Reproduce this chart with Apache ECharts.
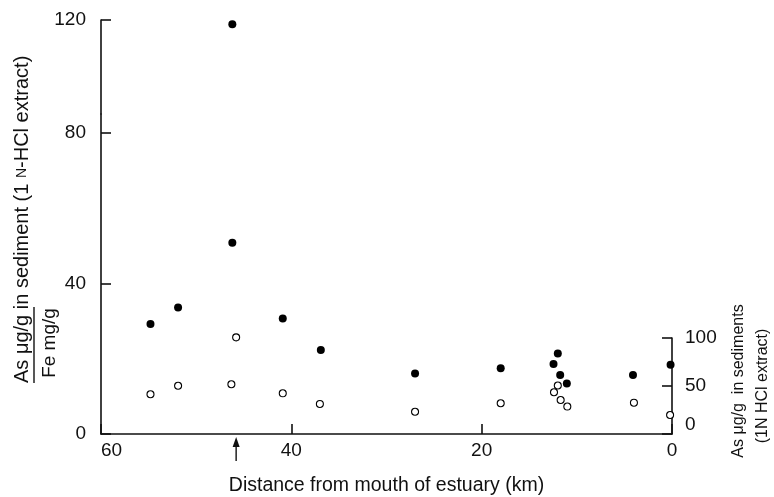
<!DOCTYPE html>
<html>
<head>
<meta charset="utf-8">
<script src="https://cdn.jsdelivr.net/npm/echarts@6/dist/echarts.min.js"></script>
<style>
  html, body { margin: 0; padding: 0; background: #fff; }
  #chart { width: 774px; height: 497px; }
</style>
</head>
<body>
<div id="chart"></div>
<script>
// As/Fe ratio (filled dots, left axis)
const ratioKm = [54.8, 51.9, 46.2, 46.2, 40.9, 36.9, 27.0, 18.0, 12.45, 12.0, 11.75, 11.05, 4.1, 0.15]
const ratioVal = [29.2, 33.6, 118.9, 50.8, 30.7, 22.3, 16.1, 17.5, 18.6, 21.4, 15.7, 13.4, 15.7, 18.4]

// As in sediments (open dots, right axis)
const sedKm = [54.8, 51.9, 46.3, 45.8, 40.9, 37.0, 27.0, 18.0, 12.4, 12.0, 11.7, 11.0, 4.0, 0.2]
const sedVal = [41.4, 50.3, 51.8, 100.7, 42.4, 31.3, 23.2, 32.0, 43.5, 50.5, 35.4, 28.6, 32.6, 19.8]

const leftTicks = [0, 40, 80, 120]
const rightTicks = [0, 50, 100]
const arrowKm = 45.8

const FONT = 'Liberation Sans, Arial, sans-serif'
const INK = '#111'

const chart = echarts.init(document.getElementById('chart'))

const axisLine = { show: true, onZero: false, lineStyle: { color: INK, width: 1.6 } }

chart.setOption({
  backgroundColor: '#fff',
  animation: false,
  grid: [
    { left: 101, right: 102, top: 20, bottom: 63, outerBoundsMode: 'none' },
    { left: 101, right: 102, top: 338, bottom: 63, outerBoundsMode: 'none' }
  ],
  xAxis: [
    {
      type: 'value',
      gridIndex: 0,
      min: 0,
      max: 60,
      interval: 20,
      inverse: true,
      axisLine,
      axisTick: { inside: true, length: 10, lineStyle: { color: INK, width: 1.6 } },
      axisLabel: { color: INK, fontSize: 19, fontFamily: FONT, margin: 7, alignMaxLabel: 'left' },
      splitLine: { show: false },
      name: 'Distance from mouth of estuary (km)',
      nameLocation: 'middle',
      nameGap: 42,
      nameTextStyle: { color: INK, fontSize: 19.5, fontFamily: FONT }
    },
    {
      type: 'value',
      gridIndex: 1,
      min: 0,
      max: 60,
      inverse: true,
      show: false
    }
  ],
  yAxis: [
    {
      type: 'value',
      gridIndex: 0,
      position: 'left',
      min: 0,
      max: 120,
      // the original scale is squeezed between 80 and 120
      breaks: [{ start: 85, end: 95, gap: 0 }],
      breakArea: { show: false },
      axisLine,
      axisTick: { inside: true, length: 10, customValues: leftTicks, lineStyle: { color: INK, width: 1.6 } },
      axisLabel: { color: INK, fontSize: 19, fontFamily: FONT, margin: 15, customValues: leftTicks },
      splitLine: { show: false }
    },
    {
      type: 'value',
      gridIndex: 1,
      position: 'right',
      min: 0,
      max: 100,
      axisLine,
      axisTick: { inside: true, length: 10, customValues: rightTicks, lineStyle: { color: INK, width: 1.6 } },
      axisLabel: {
        color: INK, fontSize: 19, fontFamily: FONT, margin: 13,
        customValues: rightTicks, verticalAlignMinLabel: 'bottom'
      },
      splitLine: { show: false }
    }
  ],
  series: [
    {
      name: 'As/Fe',
      type: 'scatter',
      xAxisIndex: 0,
      yAxisIndex: 0,
      clip: false,
      symbol: 'circle',
      symbolSize: 8,
      itemStyle: { color: '#000', opacity: 1 },
      data: ratioKm.map((k, i) => [k, ratioVal[i]])
    },
    {
      name: 'As',
      type: 'scatter',
      xAxisIndex: 1,
      yAxisIndex: 1,
      clip: false,
      symbol: 'circle',
      symbolSize: 7,
      itemStyle: { color: '#fff', borderColor: '#000', borderWidth: 1.1, opacity: 1 },
      data: sedKm.map((k, i) => [k, sedVal[i]])
    }
  ]
})

// titles and the arrow under the axis
const ax = chart.convertToPixel({ xAxisIndex: 0 }, arrowKm)
chart.setOption({
  graphic: [
    {
      type: 'text', x: 22, y: 383, rotation: Math.PI / 2,
      style: {
        text: 'As μg/g in sediment (1 {s|N}-HCl extract)',
        fill: INK, font: '20px ' + FONT,
        align: 'left', verticalAlign: 'middle',
        rich: { s: { fontSize: 14, fontFamily: FONT, fill: INK } }
      }
    },
    {
      type: 'line', shape: { x1: 34, y1: 307, x2: 34, y2: 383 },
      style: { stroke: INK, lineWidth: 1.4 }
    },
    {
      type: 'text', x: 50, y: 343, rotation: Math.PI / 2,
      style: { text: 'Fe mg/g', fill: INK, font: '19px ' + FONT, align: 'center', verticalAlign: 'middle' }
    },
    {
      type: 'text', x: 739, y: 381, rotation: Math.PI / 2,
      style: { text: 'As μg/g  in sediments', fill: INK, font: '16px ' + FONT, align: 'center', verticalAlign: 'middle' }
    },
    {
      type: 'text', x: 763, y: 386, rotation: Math.PI / 2,
      style: { text: '(1N HCl extract)', fill: INK, font: '16px ' + FONT, align: 'center', verticalAlign: 'middle' }
    },
    {
      type: 'line', shape: { x1: ax, y1: 445, x2: ax, y2: 461 },
      style: { stroke: INK, lineWidth: 1.4 }
    },
    {
      type: 'polygon', shape: { points: [[ax, 437], [ax - 3.5, 447], [ax + 3.5, 447]] },
      style: { fill: INK }
    }
  ]
})
</script>
</body>
</html>
